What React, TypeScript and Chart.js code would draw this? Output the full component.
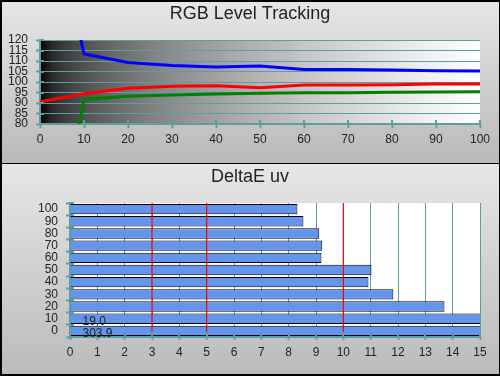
import React, { useEffect, useRef } from "react";
import { Chart, registerables } from "chart.js";

Chart.register(...registerables);

// ---------- Data: RGB Level Tracking ----------
const levels = [0, 10, 20, 30, 40, 50, 60, 70, 80, 90, 100];
const redLevels = [90.6, 94.4, 97.0, 98.0, 98.2, 97.3, 98.6, 98.6, 98.7, 99.0, 99.0];
const greenLevels = [-18, 91.7, 93.2, 93.8, 94.3, 94.6, 94.9, 94.9, 95.1, 95.2, 95.4];
const blueLevels = [212, 113.3, 109.3, 107.8, 107.1, 107.6, 106.0, 106.0, 105.7, 105.4, 105.2];

// ---------- Data: DeltaE uv ----------
const deltaLabels = ["100", "90", "80", "70", "60", "50", "40", "30", "20", "10", "0"];
const deltaValues = [8.32, 8.54, 9.12, 9.23, 9.2, 11.03, 10.92, 11.83, 13.7, 19.0, 303.9];
const thresholds = [3, 5, 10];

const FONT = "'Liberation Sans', Arial, Helvetica, sans-serif";
const TEAL = "#5f9ea0";
const TEXT = "#222222";

const plotBackground = (kind: "gradient" | "white") => ({
  id: "plotBackground",
  beforeDraw(chart: any) {
    const { ctx, chartArea: a } = chart;
    ctx.save();
    if (kind === "gradient") {
      const g = ctx.createLinearGradient(a.left, 0, a.right, 0);
      const n = 40;
      for (let i = 0; i <= n; i++) {
        const t = i / n;
        const v = Math.round(255 * Math.sqrt(t));
        g.addColorStop(t, `rgb(${v},${v},${v})`);
      }
      ctx.fillStyle = g;
    } else {
      ctx.fillStyle = "#ffffff";
    }
    ctx.fillRect(a.left, a.top, a.right - a.left, a.bottom - a.top);
    ctx.restore();
  },
});

const crossTicks = (xIn: number, yIn: number, categoryY: boolean) => ({
  id: "crossTicks",
  afterDatasetsDraw(chart: any) {
    const { ctx, chartArea: a } = chart;
    const xs = chart.scales.x;
    const ys = chart.scales.y;
    ctx.save();
    ctx.strokeStyle = TEAL;
    ctx.lineWidth = 2;
    xs.ticks.forEach((_t: any, i: number) => {
      const px = Math.round(xs.getPixelForTick(i));
      ctx.beginPath();
      ctx.moveTo(px, a.bottom);
      ctx.lineTo(px, a.bottom - xIn);
      ctx.stroke();
    });
    if (categoryY) {
      const n = ys.ticks.length;
      for (let i = 0; i <= n; i++) {
        const py = Math.round(a.top + ((a.bottom - a.top) * i) / n);
        ctx.beginPath();
        ctx.moveTo(a.left, py);
        ctx.lineTo(a.left + yIn, py);
        ctx.stroke();
      }
    } else {
      ys.ticks.forEach((_t: any, i: number) => {
        const py = Math.round(ys.getPixelForTick(i));
        ctx.beginPath();
        ctx.moveTo(a.left, py);
        ctx.lineTo(a.left + yIn, py);
        ctx.stroke();
      });
    }
    ctx.restore();
  },
});

const thresholdLines = {
  id: "thresholdLines",
  afterDatasetsDraw(chart: any) {
    const { ctx, chartArea: a } = chart;
    const xs = chart.scales.x;
    ctx.save();
    ctx.strokeStyle = "#ff0000";
    ctx.lineWidth = 1.2;
    thresholds.forEach((v) => {
      const px = xs.getPixelForValue(v);
      ctx.beginPath();
      ctx.moveTo(px, a.top);
      ctx.lineTo(px, a.bottom);
      ctx.stroke();
    });
    ctx.restore();
  },
};

const overflowLabels = {
  id: "overflowLabels",
  afterDatasetsDraw(chart: any) {
    const { ctx, chartArea: a } = chart;
    const xs = chart.scales.x;
    const ys = chart.scales.y;
    ctx.save();
    ctx.fillStyle = TEXT;
    ctx.font = `12px ${FONT}`;
    ctx.textAlign = "left";
    ctx.textBaseline = "middle";
    deltaValues.forEach((v, i) => {
      if (v > xs.max) {
        ctx.fillText(v.toFixed(1), a.left + 12.5, ys.getPixelForValue(i) + 3);
      }
    });
    ctx.restore();
  },
};

export default function App() {
  const topRef = useRef<HTMLCanvasElement>(null);
  const botRef = useRef<HTMLCanvasElement>(null);

  useEffect(() => {
    const tickFont = { family: FONT, size: 12 };
    const top = new Chart(topRef.current as HTMLCanvasElement, {
      type: "line",
      data: {
        datasets: [
          {
            label: "Red",
            data: levels.map((x, i) => ({ x, y: redLevels[i] })),
            borderColor: "#ff0000",
            borderWidth: 3,
            pointRadius: 0,
            tension: 0,
            clip: 0,
          },
          {
            label: "Green",
            data: levels.map((x, i) => ({ x, y: greenLevels[i] })),
            borderColor: "#008000",
            borderWidth: 3,
            pointRadius: 0,
            tension: 0,
            clip: 0,
          },
          {
            label: "Blue",
            data: levels.map((x, i) => ({ x, y: blueLevels[i] })),
            borderColor: "#0000ff",
            borderWidth: 3,
            pointRadius: 0,
            tension: 0,
            clip: 0,
          },
        ] as any,
      },
      options: {
        responsive: false,
        animation: false,
        devicePixelRatio: 1,
        layout: { padding: 0 },
        plugins: {
          legend: { display: false },
          tooltip: { enabled: false },
          title: {
            display: true,
            text: "RGB Level Tracking",
            color: TEXT,
            font: { family: FONT, size: 18, weight: "normal" },
            padding: { top: 3, bottom: 15.4 },
          },
        },
        scales: {
          x: {
            type: "linear",
            min: 0,
            max: 100,
            ticks: { stepSize: 10, color: TEXT, font: tickFont, padding: 4, maxRotation: 0, autoSkip: false },
            grid: { drawOnChartArea: false, drawTicks: true, tickLength: 4, tickColor: TEAL, tickWidth: 2 },
            border: { color: TEAL, width: 2 },
            afterFit: (s: any) => {
              s.height = 40;
              s.paddingRight = 20;
              s.paddingLeft = 0;
            },
          },
          y: {
            type: "linear",
            min: 80,
            max: 120,
            ticks: { stepSize: 5, color: TEXT, font: tickFont, padding: 8, autoSkip: false },
            grid: { color: TEAL, lineWidth: 1, tickLength: 4, tickColor: TEAL, tickWidth: 2 },
            border: { color: TEAL, width: 2 },
            afterFit: (s: any) => {
              s.width = 40;
            },
          },
        },
      } as any,
      plugins: [plotBackground("gradient"), crossTicks(4, 4, false)],
    });

    const bot = new Chart(botRef.current as HTMLCanvasElement, {
      type: "bar",
      data: {
        labels: deltaLabels,
        datasets: [
          {
            label: "DeltaE uv",
            data: deltaValues,
            backgroundColor: "#6495ed",
            borderColor: "#000000",
            borderWidth: 1,
            borderSkipped: "start",
            barPercentage: 0.85,
            categoryPercentage: 1.0,
            clip: 0,
          } as any,
        ],
      },
      options: {
        indexAxis: "y",
        responsive: false,
        animation: false,
        devicePixelRatio: 1,
        layout: { padding: 0 },
        plugins: {
          legend: { display: false },
          tooltip: { enabled: false },
          title: {
            display: true,
            text: "DeltaE uv",
            color: TEXT,
            font: { family: FONT, size: 18, weight: "normal" },
            padding: { top: 2.7, bottom: 14.7 },
          },
        },
        scales: {
          x: {
            type: "linear",
            min: 0,
            max: 15,
            ticks: { stepSize: 1, color: TEXT, font: tickFont, padding: 5, maxRotation: 0, autoSkip: false },
            grid: { color: TEAL, lineWidth: 1, drawTicks: true, tickLength: 3, tickColor: TEAL, tickWidth: 2 },
            border: { color: TEAL, width: 2 },
            afterFit: (s: any) => {
              s.height = 39;
              s.paddingRight = 20;
              s.paddingLeft = 0;
            },
          },
          y: {
            type: "category",
            ticks: { color: TEXT, font: tickFont, padding: 8, autoSkip: false },
            grid: { drawOnChartArea: false, drawTicks: true, tickLength: 4, tickColor: TEAL, tickWidth: 2, offset: true },
            border: { color: TEAL, width: 2 },
            afterFit: (s: any) => {
              s.width = 70;
            },
          },
        },
      } as any,
      plugins: [plotBackground("white"), thresholdLines, crossTicks(5, 4, true), overflowLabels],
    });

    return () => {
      top.destroy();
      bot.destroy();
    };
  }, []);

  return (
    <div
      style={{
        position: "fixed",
        left: 0,
        top: 0,
        width: 500,
        height: 376,
        background: "#000",
        overflow: "hidden",
      }}
    >
      <div
        style={{
          position: "absolute",
          left: 2,
          top: 2,
          width: 497,
          height: 161,
          background: "linear-gradient(#e6e6e6, #b9b9b9)",
        }}
      />
      <div
        style={{
          position: "absolute",
          left: 2,
          top: 164,
          width: 497,
          height: 210,
          background: "linear-gradient(#e6e6e6, #bbbbbb)",
        }}
      />
      <canvas
        ref={topRef}
        width={500}
        height={164}
        style={{ position: "absolute", left: 0, top: 0, width: 500, height: 164 }}
      />
      <canvas
        ref={botRef}
        width={500}
        height={212}
        style={{ position: "absolute", left: 0, top: 164, width: 500, height: 212 }}
      />
    </div>
  );
}
